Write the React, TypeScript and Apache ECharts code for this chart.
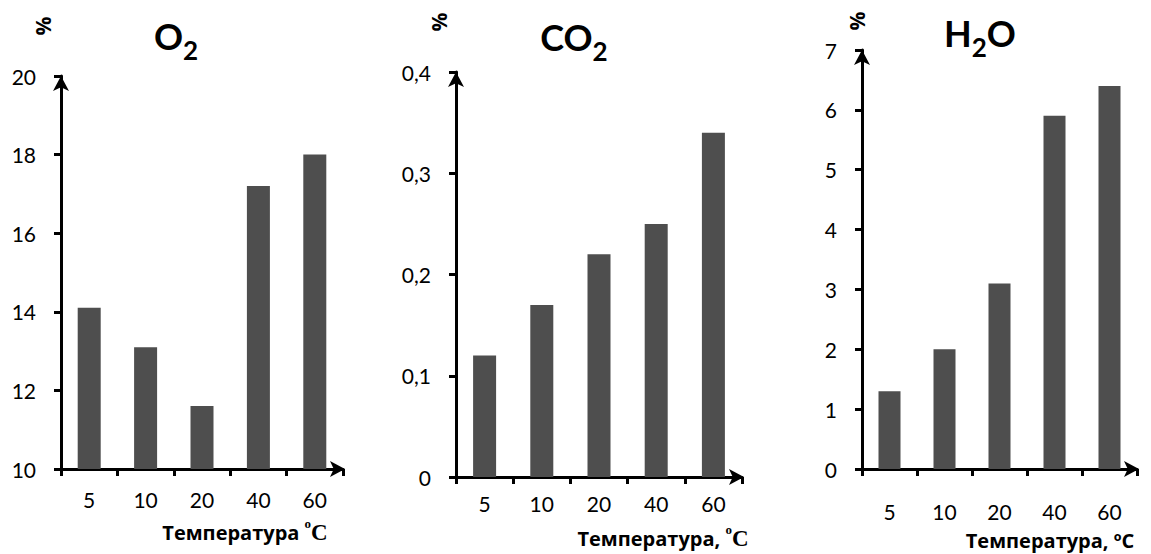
import React, { useEffect, useRef } from "react";
import * as echarts from "echarts";

const categories = ["5", "10", "20", "40", "60"];
const o2Values = [14.1, 13.1, 11.6, 17.2, 18.0];
const co2Values = [0.12, 0.17, 0.22, 0.25, 0.34];
const h2oValues = [1.3, 2.0, 3.1, 5.9, 6.4];

const BAR = "#4e4e4e";
const FONT = "Lato";
const NAME_FONT = "Open Sans";

function makeAxes(idx: number, min: number, max: number, interval: number, labelMargin: number, fmt?: (v: number) => string) {
  const xAxis = {
    type: "category",
    gridIndex: idx,
    data: categories,
    boundaryGap: true,
    axisLine: {
      lineStyle: { color: "#000", width: 3 },
      symbol: ["none", "arrow"],
      symbolSize: [12, 15],
      symbolOffset: [0, 2],
    },
    axisTick: { show: true, length: 7, lineStyle: { color: "#000", width: 3 } },
    axisLabel: { color: "#000", fontFamily: FONT, fontSize: 21, margin: labelMargin },
    splitLine: { show: false },
  };
  const yAxis = {
    type: "value",
    gridIndex: idx,
    min,
    max,
    interval,
    axisLine: {
      show: true,
      lineStyle: { color: "#000", width: 3 },
      symbol: ["none", "arrow"],
      symbolSize: [12, 15],
      symbolOffset: [0, 0],
    },
    axisTick: { show: true, length: 7, lineStyle: { color: "#000", width: 3 } },
    axisLabel: {
      color: "#000",
      fontFamily: FONT,
      fontSize: 21,
      margin: 25,
      formatter: fmt,
    },
    splitLine: { show: false },
  };
  return { xAxis, yAxis };
}

export default function App() {
  const ref = useRef<HTMLDivElement>(null);
  useEffect(() => {
    if (!ref.current) return;
    const chart = echarts.init(ref.current, undefined, { renderer: "svg" });
    const a1 = makeAxes(0, 10, 20, 2, 20);
    const a2 = makeAxes(1, 0, 0.4, 0.1, 16, (v: number) => (v === 0 ? "0" : v.toFixed(1).replace(".", ",")));
    const a3 = makeAxes(2, 0, 7, 1, 32);

    const titleRich = {
      a: { fontFamily: FONT, fontWeight: "bold", fontSize: 36, lineHeight: 36, verticalAlign: "top", color: "#000" },
      b: { fontFamily: FONT, fontWeight: "bold", fontSize: 26, lineHeight: 64, verticalAlign: "middle", color: "#000" },
    };
    const nameRich = {
      s: { fontFamily: NAME_FONT, fontWeight: "bold", fontSize: 20, lineHeight: 22, color: "#000" },
      o: { fontFamily: "Liberation Serif", fontWeight: "bold", fontSize: 13, color: "#000", verticalAlign: "top", lineHeight: 30 },
      c: { fontFamily: "Liberation Serif", fontWeight: "bold", fontSize: 23, lineHeight: 22, color: "#000" },
    };

    const title = (x: number, y: number, text: string) => ({
      type: "text",
      x,
      y,
      style: { text, rich: titleRich, align: "center", verticalAlign: "top" },
    });
    const pct = (x: number, y: number) => ({
      type: "text",
      x,
      y,
      rotation: Math.PI / 2,
      style: { text: "%", fontFamily: NAME_FONT, fontWeight: "bold", fontSize: 21, fill: "#000", align: "center", verticalAlign: "middle" },
    });
    const axName = (x: number, y: number, text: string) => ({
      type: "text",
      x,
      y,
      style: { text, rich: nameRich, align: "center", verticalAlign: "middle" },
    });

    chart.setOption({
      animation: false,
      grid: [
        { left: 61, top: 76, width: 282, height: 393 },
        { left: 456, top: 72, width: 286, height: 405 },
        { left: 862, top: 50, width: 275, height: 419 },
      ],
      xAxis: [a1.xAxis, a2.xAxis, a3.xAxis],
      yAxis: [a1.yAxis, a2.yAxis, a3.yAxis],
      series: [
        { type: "bar", xAxisIndex: 0, yAxisIndex: 0, data: o2Values, barWidth: 23, itemStyle: { color: BAR } },
        { type: "bar", xAxisIndex: 1, yAxisIndex: 1, data: co2Values, barWidth: 23, itemStyle: { color: BAR } },
        { type: "bar", xAxisIndex: 2, yAxisIndex: 2, data: h2oValues, barWidth: 22, itemStyle: { color: BAR } },
      ],
      graphic: [
        title(176, 18, "{a|O}{b|2}"),
        title(574, 19, "{a|CO}{b|2}"),
        title(980, 15, "{a|H}{b|2}{a|O}"),
        pct(43, 26),
        pct(439, 22),
        pct(857, 21),
        axName(245, 532, "{s|Температура }{o|o}{c|C}"),
        axName(663, 538, "{s|Температура, }{o|o}{c|C}"),
        axName(1050, 540, "{s|Температура, ºC}"),
      ],
    });
    return () => chart.dispose();
  }, []);
  return <div ref={ref} style={{ position: "absolute", left: 0, top: 0, width: 1151, height: 554 }} />;
}
